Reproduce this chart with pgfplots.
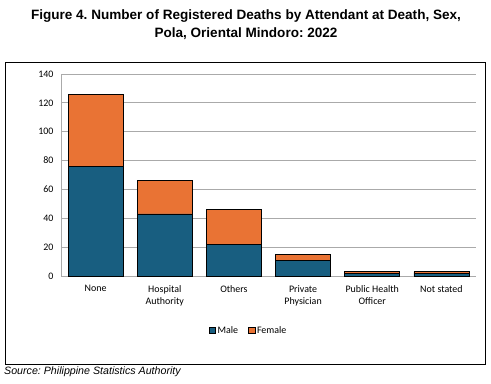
\documentclass[border=0pt]{standalone}
\usepackage{pgfplots}
\pgfplotsset{compat=1.18}
\usepackage{fontspec}
\setmainfont{Carlito}
\newfontfamily\arial{Liberation Sans}
\frenchspacing
\definecolor{male}{RGB}{24,94,128}
\definecolor{female}{RGB}{233,115,52}
\definecolor{gridgray}{RGB}{170,170,170}
\begin{document}
\begin{tikzpicture}[x=1bp,y=1bp]
\useasboundingbox (0,0) rectangle (491,383);
\node[font=\arial\bfseries\fontsize{13.6}{18}\selectfont,align=center] at (246,358.5) {Figure 4. Number of Registered Deaths by Attendant at Death, Sex,\\Pola, Oriental Mindoro: 2022};
\draw[black,line width=0.9bp] (5.3,19) rectangle (485.7,320.7);
\node[font=\arial\itshape\fontsize{10.7}{12}\selectfont,anchor=west,inner sep=0] at (4,11.5) {Source: Philippine Statistics Authority};
\begin{axis}[
  at={(61bp,107bp)}, anchor=south west,
  scale only axis, width=415bp, height=202bp,
  ybar stacked, bar width=55bp,
  xmin=-0.5, xmax=5.5, ymin=0, ymax=140,
  ytick={0,20,...,140},
  xtick={0,1,2,3,4,5},
  xticklabels={None,Hospital\\Authority,Others,Private\\Physician,Public Health\\Officer,Not stated},
  xticklabel style={align=center, font=\fontsize{10}{12.5}\selectfont, yshift=-6bp},
  yticklabel style={font=\fontsize{10}{12}\selectfont, xshift=-4bp},
  /pgf/number format/assume math mode=true,
  axis x line*=bottom, axis y line*=left,
  axis line style={gridgray, line width=0.8bp, -},
  major tick style={draw=none},
  ymajorgrids, grid style={gridgray, line width=0.8bp},
  every axis plot/.append style={draw=black, line width=0.8bp},
  legend style={at={(0.452,-0.27)}, anchor=center, draw=none, font=\fontsize{10}{12}\selectfont, legend columns=2, /tikz/every even column/.append style={column sep=8bp}},
  legend image code/.code={\draw[#1, line width=0.5bp] (0bp,-3.2bp) rectangle (6.4bp,3.2bp);},
]
\addplot[fill=male] coordinates {(0,76) (1,43) (2,22) (3,11) (4,2) (5,2)};
\addplot[fill=female] coordinates {(0,50) (1,23) (2,24) (3,4) (4,1) (5,1)};
\legend{Male,Female}
\end{axis}
\end{tikzpicture}
\end{document}
